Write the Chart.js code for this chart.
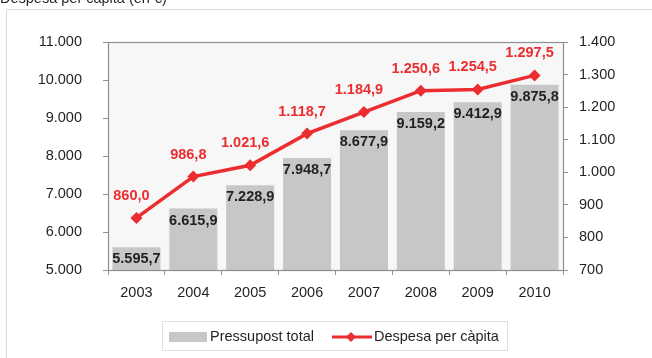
<!DOCTYPE html>
<html>
<head>
<meta charset="utf-8">
<script src="https://cdn.jsdelivr.net/npm/chart.js@4/dist/chart.umd.min.js"></script>
<style>
html,body{margin:0;padding:0;background:#fff;}
#wrap{position:relative;width:652px;height:358px;}
</style>
</head>
<body>
<div id="wrap"><canvas id="c"></canvas></div>
<script>
const years = ['2003','2004','2005','2006','2007','2008','2009','2010'];
const pressupostTotal = [5595.7, 6615.9, 7228.9, 7948.7, 8677.9, 9159.2, 9412.9, 9875.8];
const despesaPerCapita = [860.0, 986.8, 1021.6, 1118.7, 1184.9, 1250.6, 1254.5, 1297.5];
const leftTicks = [5000, 6000, 7000, 8000, 9000, 10000, 11000];
const rightTicks = [700, 800, 900, 1000, 1100, 1200, 1300, 1400];
const titleText = 'Despesa per càpita (en €)';
const legendLabels = ['Pressupost total', 'Despesa per càpita'];

const FONT = '"Liberation Sans", Arial, Helvetica, sans-serif';
const FS = 14.5;
const DARK = '#231f20';
const RED = '#ec2d2f';
const BARC = '#c6c7c9';

function fmt(v, dec) {
  const s = v.toFixed(dec);
  let [i, d] = s.split('.');
  i = i.replace(/\B(?=(\d{3})+(?!\d))/g, '.');
  return d !== undefined ? i + ',' + d : i;
}

const decor = {
  id: 'decor',
  beforeDraw(chart) {
    const ctx = chart.ctx, a = chart.chartArea;
    ctx.save();
    // outer frame
    ctx.strokeStyle = '#d9d9d9';
    ctx.lineWidth = 1;
    ctx.beginPath();
    ctx.moveTo(6.5, 358);
    ctx.lineTo(6.5, 9.5);
    ctx.lineTo(652, 9.5);
    ctx.stroke();
    // title (partially cut)
    ctx.fillStyle = DARK;
    ctx.font = FS + 'px ' + FONT;
    ctx.textBaseline = 'alphabetic';
    ctx.textAlign = 'left';
    ctx.fillText(titleText, 0, 3);
    // plot background
    ctx.fillStyle = '#f7f7f7';
    ctx.fillRect(a.left, a.top, a.right - a.left, a.bottom - a.top);
    ctx.restore();
  },
  afterDatasetsDraw(chart) {
    const ctx = chart.ctx, a = chart.chartArea;
    ctx.save();
    ctx.strokeStyle = '#8f8f8f';
    ctx.lineWidth = 1.2;
    ctx.strokeRect(Math.round(a.left) + 0.5, Math.round(a.top) + 0.5,
      Math.round(a.right - a.left), Math.round(a.bottom - a.top));
    // bar labels
    ctx.font = 'bold ' + FS + 'px ' + FONT;
    ctx.textAlign = 'center';
    ctx.textBaseline = 'middle';
    ctx.fillStyle = DARK;
    const barMeta = chart.getDatasetMeta(0);
    barMeta.data.forEach((el, i) => {
      ctx.fillText(fmt(pressupostTotal[i], 1), el.x, el.y + 12);
    });
    // line labels
    ctx.fillStyle = RED;
    const lineMeta = chart.getDatasetMeta(1);
    lineMeta.data.forEach((el, i) => {
      ctx.fillText(fmt(despesaPerCapita[i], 1), el.x - 5, el.y - 22);
    });
    ctx.restore();
  },
  afterDraw(chart) {
    const ctx = chart.ctx;
    ctx.save();
    // legend box
    ctx.strokeStyle = '#e0e0e0';
    ctx.lineWidth = 1;
    ctx.strokeRect(162.5, 321.5, 345, 29);
    ctx.fillStyle = BARC;
    ctx.fillRect(169, 332, 38, 10);
    ctx.font = FS + 'px ' + FONT;
    ctx.fillStyle = DARK;
    ctx.textAlign = 'left';
    ctx.textBaseline = 'middle';
    ctx.fillText(legendLabels[0], 210, 337);
    ctx.strokeStyle = RED;
    ctx.lineWidth = 3;
    ctx.beginPath();
    ctx.moveTo(332, 337);
    ctx.lineTo(372, 337);
    ctx.stroke();
    ctx.fillStyle = RED;
    ctx.beginPath();
    ctx.moveTo(351, 332); ctx.lineTo(356, 337); ctx.lineTo(351, 342); ctx.lineTo(346, 337);
    ctx.closePath(); ctx.fill();
    ctx.fillStyle = DARK;
    ctx.fillText(legendLabels[1], 374, 337);
    ctx.restore();
  }
};

new Chart(document.getElementById('c'), {
  data: {
    labels: years,
    datasets: [
      {
        type: 'bar',
        label: legendLabels[0],
        data: pressupostTotal,
        backgroundColor: BARC,
        borderWidth: 0,
        barPercentage: 0.845,
        categoryPercentage: 1,
        yAxisID: 'y',
        order: 2
      },
      {
        type: 'line',
        label: legendLabels[1],
        data: despesaPerCapita,
        borderColor: RED,
        backgroundColor: RED,
        borderWidth: 3.5,
        pointStyle: 'rectRot',
        pointRadius: 6,
        pointBackgroundColor: RED,
        pointBorderColor: RED,
        pointBorderWidth: 0,
        tension: 0,
        yAxisID: 'y1',
        order: 1
      }
    ]
  },
  options: {
    responsive: true,
    maintainAspectRatio: false,
    animation: false,
    layout: { padding: { top: 42, left: 0, right: 0, bottom: 0 } },
    plugins: { legend: { display: false }, tooltip: { enabled: false } },
    scales: {
      x: {
        type: 'category',
        offset: true,
        grid: { offset: true, drawOnChartArea: false, drawTicks: true, tickLength: 5, color: '#8f8f8f' },
        border: { display: false },
        ticks: { color: DARK, font: { family: FONT, size: FS }, padding: 9, maxRotation: 0 },
        afterFit(s) { s.height = 358 - 270; }
      },
      y: {
        position: 'left',
        min: leftTicks[0],
        max: leftTicks[leftTicks.length - 1],
        afterBuildTicks(s) { s.ticks = leftTicks.map(v => ({ value: v })); },
        grid: { drawOnChartArea: false, drawTicks: true, tickLength: 5, color: '#8f8f8f' },
        border: { display: false },
        ticks: { color: DARK, font: { family: FONT, size: FS }, padding: 21, callback: v => fmt(v, 0) },
        afterFit(s) { s.width = 108; }
      },
      y1: {
        position: 'right',
        min: rightTicks[0],
        max: rightTicks[rightTicks.length - 1],
        afterBuildTicks(s) { s.ticks = rightTicks.map(v => ({ value: v })); },
        grid: { drawOnChartArea: false, drawTicks: true, tickLength: 5, color: '#8f8f8f' },
        border: { display: false },
        ticks: { color: DARK, font: { family: FONT, size: FS }, padding: 11, callback: v => fmt(v, 0) },
        afterFit(s) { s.width = 652 - 563; }
      }
    }
  },
  plugins: [decor]
});
</script>
</body>
</html>
